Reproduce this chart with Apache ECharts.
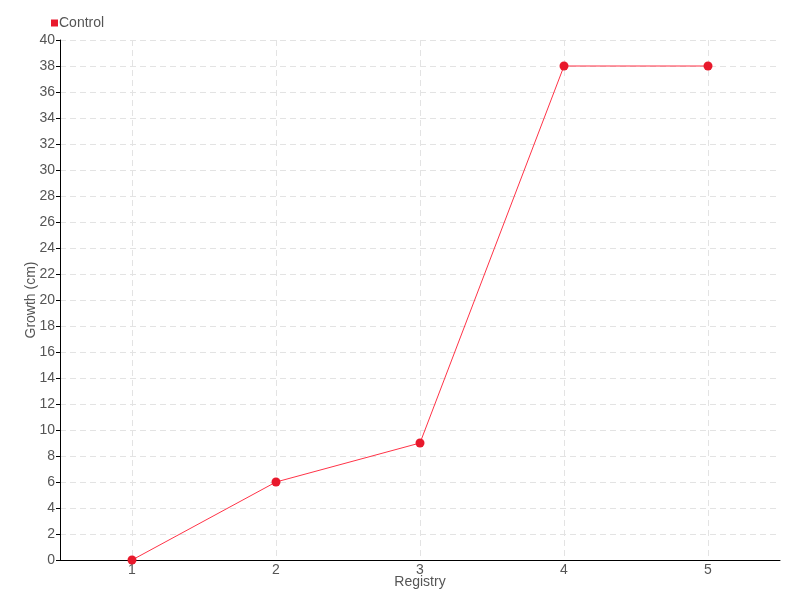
<!DOCTYPE html>
<html><head><meta charset="utf-8">
<script src="https://cdn.jsdelivr.net/npm/echarts@6/dist/echarts.min.js"></script>
<style>html,body{margin:0;padding:0;background:#fff}#c{width:800px;height:600px}</style>
</head><body><div id="c"></div>
<script>
const categories = ['1','2','3','4','5'];
const controlValues = [0, 6, 9, 38, 38];
const seriesName = 'Control';
const xName = 'Registry';
const yName = 'Growth (cm)';

const FONT = '"Liberation Sans", Arial, sans-serif';
// helper axis with half-step slots so vertical grid lines fall on category centres
const helperSlots = [];
for (let i = 0; i <= categories.length * 2; i++) helperSlots.push(String(i));

const chart = echarts.init(document.getElementById('c'));
chart.setOption({
  animation: false,
  textStyle: {fontFamily: FONT},
  legend: {
    left: 46, top: 11, itemWidth: 7, itemHeight: 7, itemGap: 4,
    icon: 'rect',
    textStyle: {color: '#555', fontSize: 14, fontFamily: FONT, padding: [0,0,0,-4]},
    data: [seriesName]
  },
  grid: {left: 60, right: 20, top: 40, bottom: 40},
  xAxis: [{
    type: 'category', data: categories, boundaryGap: true,
    name: xName, nameLocation: 'middle', nameGap: 15, nameMoveOverlap: false,
    nameTextStyle: {color: '#555', fontSize: 14, fontFamily: FONT},
    axisLine: {lineStyle: {color: '#000', width: 1}},
    axisTick: {alignWithLabel: true, length: 5, lineStyle: {color: '#000'}},
    axisLabel: {color: '#555', fontSize: 14, margin: 3, fontFamily: FONT},
    splitLine: {show: false}
  }, {
    type: 'category', data: helperSlots, boundaryGap: false, position: 'bottom',
    axisLine: {show: false}, axisTick: {show: false}, axisLabel: {show: false},
    splitLine: {show: true, interval: (i) => i % 2 === 1, lineStyle: {color: '#e3e3e3', type: [6, 4]}}
  }],
  yAxis: {
    type: 'value', min: 0, max: 40, interval: 2,
    name: yName, nameLocation: 'middle', nameGap: 22, nameRotate: 90, nameMoveOverlap: false,
    nameTextStyle: {color: '#555', fontSize: 14, fontFamily: FONT},
    axisLine: {show: true, lineStyle: {color: '#000', width: 1}},
    axisTick: {show: true, length: 4, lineStyle: {color: '#000'}},
    axisLabel: {color: '#555', fontSize: 14, margin: 5, fontFamily: FONT},
    splitLine: {show: true, lineStyle: {color: '#e3e3e3', type: [6, 4]}}
  },
  series: [{
    name: seriesName, type: 'line', data: controlValues, xAxisIndex: 0,
    symbol: 'circle', symbolSize: 9,
    itemStyle: {color: '#e8192c'},
    lineStyle: {color: '#ff3347', width: 1}
  }]
});
</script></body></html>
